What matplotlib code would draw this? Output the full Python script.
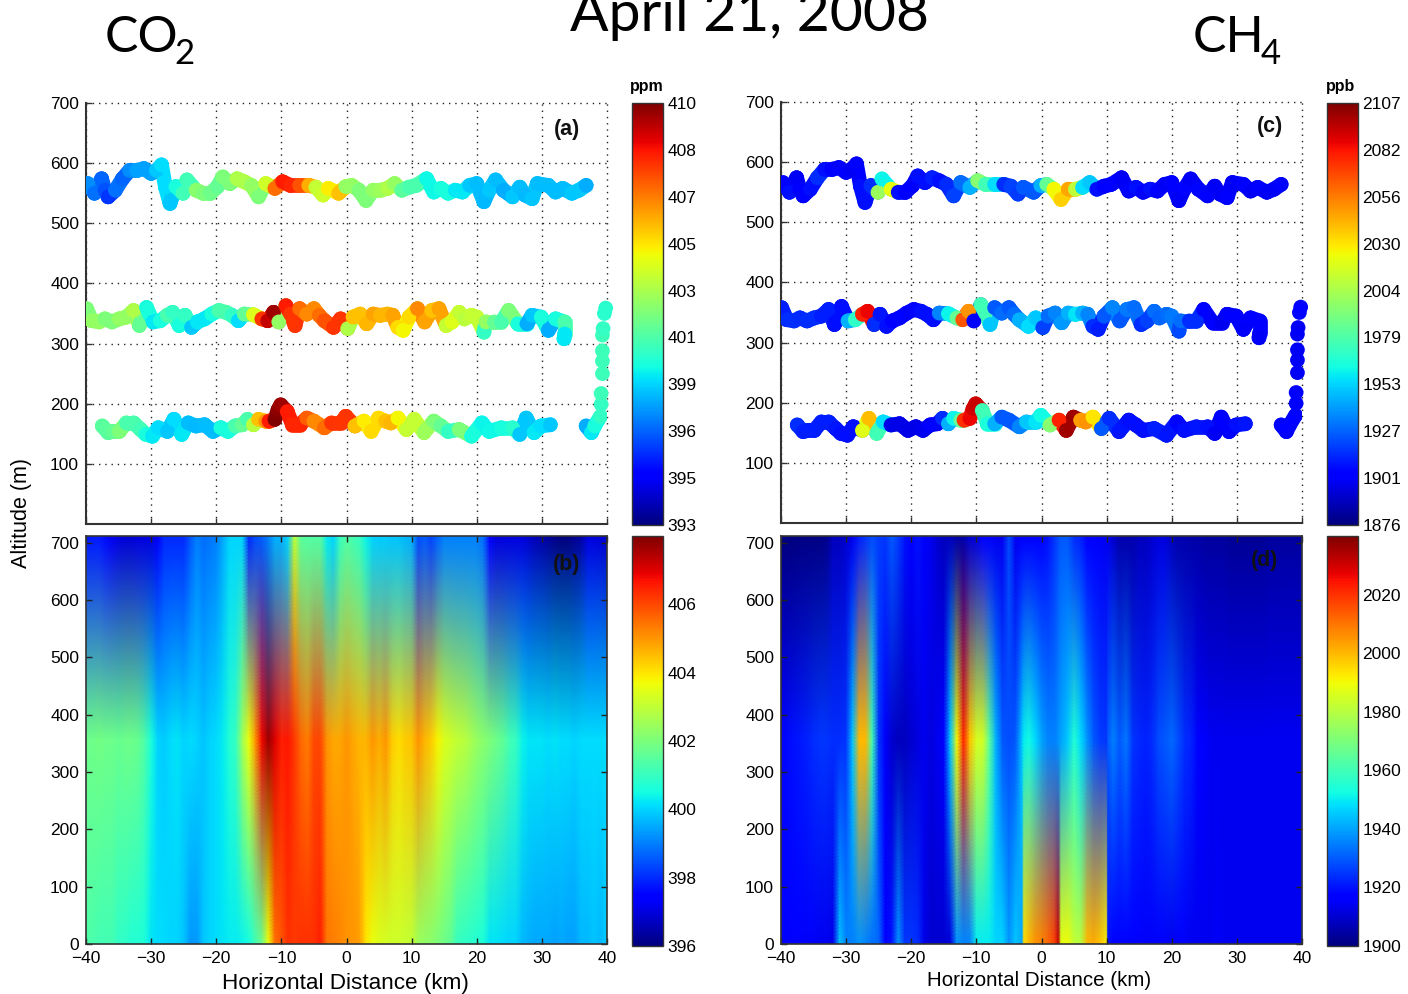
"""CO2 / CH4 curtain figure for April 21, 2008: flight tracks (a, c) and kriged sections (b, d)."""
import numpy as np
import matplotlib
matplotlib.use("Agg")
import matplotlib.pyplot as plt
from matplotlib.cm import ScalarMappable
from matplotlib.collections import LineCollection
from matplotlib.colors import Normalize

W, H = 1408, 994

# flight legs: horizontal distance (km), altitude (m), CO2 (ppm), CH4 (ppb)
leg1_x = [-39.7, -38.7, -37.6, -37.1, -36.6, -35.5, -34.4, -33.3, -32.2, -31.1, -30.0, -29.2, -28.4, -27.8,
          -27.1, -26.2, -25.1, -24.5, -23.1, -22.0, -20.9, -19.8, -19.0, -17.9, -16.8, -15.7, -14.6, -13.5,
          -12.4, -11.0, -9.8, -8.6, -7.2, -5.8, -4.7, -3.6, -2.8, -1.2, -0.1, 0.8, 1.9, 3.0, 4.1, 5.2, 6.3,
          7.4, 8.5, 9.6, 10.7, 12.3, 13.4, 14.5, 15.6, 16.7, 17.8, 18.9, 20.0, 21.1, 21.9, 22.9, 24.1, 25.5,
          26.6, 27.4, 28.5, 29.3, 31.0, 32.1, 33.2, 34.6, 35.7, 36.8]
leg1_alt = [566, 550, 574, 555, 544, 555, 574, 588, 588, 591, 583, 588, 597, 560, 533, 561, 550, 572, 555, 550,
            550, 561, 577, 566, 574, 569, 563, 544, 566, 558, 569, 563, 563, 563, 560, 547, 558, 550, 561, 563,
            555, 538, 555, 555, 558, 566, 555, 560, 563, 574, 552, 558, 550, 555, 552, 563, 566, 536, 555, 572,
            555, 544, 560, 547, 541, 566, 563, 552, 558, 550, 555, 563]
leg1_co2 = [397.5, 397, 396.8, 396.5, 396, 397, 396.8, 397.5, 397.8, 397.8, 397.8, 398.5, 398.8, 398.8, 398.5,
            399.5, 400.3, 400.3, 401.8, 401.5, 401.2, 401, 401.5, 401.5, 402.5, 402.5, 402, 401.5, 403.2, 406.5,
            408, 407.8, 407, 405.3, 403, 403.2, 404.2, 405, 402, 402, 401.5, 401.5, 402, 402.2, 402.5, 402, 400.8,
            400.5, 400.5, 399.3, 399.3, 399.5, 399.5, 399, 399, 398.5, 398.3, 398.2, 398.5, 398.3, 398, 398.5, 398.3,
            398.2, 398.4, 398.3, 398.3, 398.3, 398.3, 398.5, 398.5, 398]
leg1_ch4 = [1902, 1908, 1900, 1904, 1902, 1908, 1915, 1908, 1903, 1905, 1903, 1900, 1902, 1908, 1908, 1915, 2000,
            1960, 2022, 1908, 1903, 1902, 1908, 1908, 1912, 1908, 1914, 1920, 1930, 1945, 1995, 1975, 1955, 1915,
            1920, 1918, 1925, 1925, 1945, 1985, 2025, 2035, 2045, 2010, 1955, 1950, 1908, 1903, 1905, 1900, 1903,
            1908, 1903, 1908, 1903, 1900, 1902, 1900, 1905, 1900, 1906, 1902, 1900, 1900, 1903, 1900, 1902, 1900,
            1903, 1900, 1900, 1902]

leg2_x = [-39.9, -39.1, -38.0, -37.1, -36.0, -34.9, -33.8, -32.7, -31.8, -30.7, -29.7, -28.6, -27.5, -26.7, -25.7,
          -24.8, -23.8, -22.9, -21.8, -20.7, -19.6, -18.5, -17.6, -16.6, -15.7, -14.3, -13.0, -12.1, -11.2, -10.4,
          -9.3, -8.6, -7.9, -7.2, -6.1, -5.0, -4.2, -3.4, -2.0, -0.9, 0.2, 1.0, 2.1, 3.1, 4.1, 5.2, 6.3, 7.1, 7.9,
          8.7, 9.6, 10.9, 12.0, 13.1, 14.2, 15.3, 16.2, 17.3, 18.1, 19.2, 20.0, 21.1, 21.4, 22.7, 23.8, 24.9, 26.3,
          27.7, 28.5, 29.9, 31.0, 32.1, 33.5, 33.5, 33.4]
leg2_alt = [358, 338, 336, 341, 336, 341, 344, 355, 330, 360, 336, 338, 347, 352, 330, 347, 327, 336, 341, 349, 355,
            352, 347, 338, 349, 348, 341, 338, 352, 336, 363, 349, 330, 358, 349, 358, 347, 338, 327, 341, 325, 344,
            349, 333, 349, 347, 349, 347, 327, 322, 344, 358, 336, 355, 358, 330, 336, 352, 341, 347, 344, 319, 336,
            336, 336, 355, 333, 333, 347, 344, 322, 341, 336, 316, 308]
leg2_co2 = [401.5, 402, 402, 401.5, 401.5, 402, 402, 402.5, 401, 399.5, 399, 399.5, 400.5, 400, 399.5, 400, 398.5,
            399, 399, 399.5, 400.5, 400.5, 400, 398.8, 401, 403.5, 407.5, 409, 409.5, 402, 408, 407.5, 407.5, 406.5,
            406, 406, 406.5, 407, 407.5, 407.5, 402.5, 405, 405, 405.2, 405.5, 405.2, 405.2, 405.5, 404.5, 404,
            404.5, 406, 405.5, 405, 405.5, 403, 403.5, 403, 402.8, 403, 403, 400, 402, 401, 400.5, 401.5, 399.5,
            398, 398.5, 399.5, 398, 399.5, 400.5, 399, 399]
leg2_ch4 = [1912, 1915, 1915, 1914, 1915, 1915, 1912, 1912, 1908, 1908, 1945, 1970, 2078, 2085, 1915, 1910, 1908,
            1904, 1906, 1904, 1906, 1908, 1908, 1908, 1935, 1960, 1985, 2065, 2050, 1904, 1975, 1975, 1950, 1925,
            1930, 1925, 1930, 1945, 1955, 1950, 1920, 1930, 1935, 1940, 1945, 1957, 1945, 1935, 1915, 1912, 1925,
            1935, 1925, 1932, 1930, 1915, 1920, 1930, 1928, 1930, 1932, 1922, 1930, 1915, 1915, 1904, 1902, 1899,
            1902, 1904, 1901, 1904, 1904, 1902, 1900]

leg3_x = [-37.5, -36.6, -35.8, -34.9, -33.8, -32.7, -31.6, -30.8, -29.8, -28.9, -27.5, -26.5, -25.3, -24.3, -23.1,
          -21.8, -20.5, -19.3, -18.2, -17.1, -16.0, -15.2, -14.3, -13.5, -12.4, -11.9, -11.0, -10.5, -10.1, -9.1,
          -8.3, -7.2, -6.1, -5.0, -3.4, -2.3, -0.9, -0.1, 1.3, 2.7, 3.8, 4.9, 6.0, 6.8, 7.9, 9.2, 10.4, 11.9, 13.4,
          14.5, 15.6, 17.3, 19.2, 20.8, 21.9, 23.8, 25.5, 26.6, 27.6, 28.8, 29.9, 31.3]
leg3_alt = [163, 152, 154, 154, 168, 168, 157, 149, 146, 160, 154, 174, 149, 168, 163, 165, 154, 160, 154, 163, 165,
            174, 165, 174, 171, 171, 174, 190, 198, 187, 165, 165, 176, 171, 160, 168, 168, 179, 163, 171, 154, 176,
            171, 168, 176, 157, 174, 152, 171, 163, 154, 157, 146, 168, 154, 160, 160, 149, 176, 152, 163, 165]
leg3_co2 = [400.8, 400.8, 401, 401.5, 400.5, 400.5, 400.3, 399.5, 399, 398.8, 398.5, 398.8, 399, 398.3, 398.2, 398.3,
            398.3, 399.5, 399.5, 400.5, 401, 400.5, 402.8, 405, 405.8, 408, 410, 409.8, 409.5, 408, 407.8, 407.8,
            406.8, 406, 406.5, 407.5, 407.5, 407.5, 405, 404.2, 404.5, 404.5, 405, 405.2, 404, 403, 403, 402.2,
            401.5, 401, 400, 401.5, 399.5, 399.2, 399.3, 399.5, 399.8, 398.5, 398.5, 399, 398.8, 398.5]
leg3_ch4 = [1915, 1912, 1912, 1912, 1912, 1912, 1910, 1908, 1908, 1908, 2020, 2040, 1975, 1955, 1897, 1897, 1897,
            1897, 1899, 1902, 1906, 1915, 1945, 1960, 1985, 2075, 2085, 2090, 2092, 1975, 1965, 1945, 1925, 1925,
            1935, 1950, 1957, 1962, 1995, 2078, 2100, 2100, 2048, 2050, 2030, 1925, 1915, 1910, 1908, 1908, 1908,
            1912, 1910, 1906, 1908, 1910, 1908, 1900, 1902, 1904, 1908, 1910]

# short run-in near the east end
runin_x = [36.8, 37.6, 38.1, 39.0]
runin_alt = [163, 152, 163, 179]
runin_co2 = [398, 399, 399.5, 400]
runin_ch4 = [1905, 1905, 1905, 1905]

# spiral up, separate samples
spiral_x = [39.1, 39.1, 39.3, 39.3, 39.3, 39.3, 39.4, 39.6, 39.8]
spiral_alt = [199, 217, 250, 271, 288, 314, 325, 350, 359]
spiral_co2 = [400, 400.2, 400.2, 400.2, 400.2, 400.2, 400, 399.8, 399.8]
spiral_ch4 = [1902, 1902, 1900, 1900, 1900, 1900, 1900, 1905, 1905]

# sections: three altitude rows, colours blended between them
sec_alt = [0, 356, 712]
x_b = list(range(-40, 41))
co2_row0 = [401.3, 401.3, 401.2, 401.2, 401.2, 400.9, 400.9, 400.7, 400.7, 400.6,
            400.2, 400.1, 400.1, 400, 400, 399.8, 399.3, 399.3, 399.8, 400,
            400.1, 400.2, 400.3, 400.3, 400.4, 400.5, 401.2, 401.8, 403.6, 405.5,
            405.8, 406.3, 406.2, 406.3, 406.3, 406.3, 406.5, 405.4, 405.3, 405.2,
            405, 405, 404.9, 404, 403.6, 403.4, 403.3, 403.2, 403.2, 403.1,
            403, 402.5, 402.3, 402.2, 402, 401.8, 401.6, 401, 400.9, 400.8,
            400.7, 400.6, 400.2, 400.2, 400.1, 400, 400, 399.7, 399.6, 399.5,
            399.5, 399.5, 399.4, 399.5, 399.4, 399.4, 399.7, 399.7, 399.8, 399.7, 399.9]
co2_row1 = [401.8, 401.8, 401.9, 401.8, 401.8, 401.7, 401.8, 401.8, 401.7, 401.3,
            400.6, 400, 399.9, 400.1, 400.2, 400, 400.1, 400, 399.8, 400,
            400.1, 400.3, 400.7, 401, 402.5, 403.6, 405, 406.8, 407.7, 407,
            406.5, 406.6, 406.2, 405.6, 405.3, 406, 406, 405, 404.8, 404.8,
            405, 404.8, 404.6, 404.6, 405, 404.7, 405, 404.3, 404.1, 404.3,
            404.4, 405, 404.6, 404.3, 403.8, 403.4, 403.2, 403, 402.9, 402.7,
            402.4, 402.2, 402, 401.8, 401.6, 401.2, 401, 400.4, 400.2, 400.2,
            400.2, 400.1, 400.2, 400.1, 400.1, 400, 400.1, 400.1, 400.1, 400.1, 400.1]
co2_row2 = [397.8, 397.8, 397.8, 397.6, 397.2, 397, 396.9, 396.9, 397, 397,
            397, 397.3, 398, 398, 398, 398, 398.5, 399, 398.8, 398.9,
            399, 399.5, 400, 400, 400, 398, 398.4, 398.6, 399, 399.6,
            399.6, 400, 403, 401.5, 401.4, 401.4, 401.4, 400.3, 400, 401,
            401.4, 401.2, 401, 400.4, 400, 399.9, 399.9, 399.8, 399.8, 399.7,
            399.6, 398.4, 398.6, 398.3, 398.7, 399, 399, 399, 399, 399,
            399, 398.8, 397.4, 397, 397, 397, 397, 397, 396.8, 396.6,
            396.5, 396.3, 396.1, 396, 396, 396.2, 396.4, 397, 397, 396.9, 396.8]

x_d = [-40, -39, -38, -37, -36, -35, -34, -33, -32, -31, -30, -29, -28, -27, -26, -25, -24, -23, -22, -21,
       -20, -19, -18, -17, -16, -15, -14, -13, -12, -11, -10, -9, -8, -7, -6, -5, -4, -3, -2.7, -2, -1, 0, 1, 2,
       2.6, 3, 4, 5, 6, 7, 8, 9, 10, 10.2, 11, 12, 13, 14, 15, 16, 17, 18, 19, 20, 21, 22, 23, 24, 25, 26, 27,
       28, 29, 30, 31, 32, 33, 34, 35, 36, 37, 38, 39, 40]
ch4_row0 = [1916, 1916, 1916, 1916, 1915, 1915, 1914, 1914, 1913, 1944, 1936, 1935, 1938, 1936, 1933, 1932, 1918,
            1920, 1938, 1925, 1925, 1924, 1913, 1910, 1910, 1910, 1912, 1938, 1936, 1936, 1950, 1950, 1950, 1947,
            1947, 1938, 1945, 1940, 1995, 2000, 2005, 2008, 2012, 2018, 2032, 1988, 1990, 1982, 1980, 2000, 2002,
            1998, 1992, 1920, 1918, 1918, 1917, 1917, 1916, 1915, 1915, 1915, 1915, 1914, 1915, 1915, 1914, 1914,
            1914, 1914, 1915, 1914, 1914, 1914, 1914, 1914, 1914, 1914, 1914, 1914, 1914, 1914, 1914, 1914]
ch4_row1 = [1918, 1919, 1920, 1921, 1922, 1924, 1925, 1925, 1924, 1924, 1925, 1945, 2000, 2000, 1960, 1925, 1915,
            1910, 1908, 1908, 1910, 1912, 1914, 1912, 1914, 1918, 1945, 1990, 2022, 1998, 1985, 1985, 1965, 1942,
            1930, 1928, 1930, 1945, 1950, 1952, 1948, 1940, 1936, 1935, 1938, 1940, 1945, 1955, 1948, 1938, 1930,
            1926, 1925, 1930, 1935, 1930, 1934, 1925, 1923, 1922, 1924, 1928, 1930, 1932, 1928, 1924, 1922, 1918,
            1916, 1914, 1914, 1914, 1914, 1914, 1914, 1914, 1914, 1914, 1914, 1914, 1914, 1914, 1914, 1914]
ch4_row2 = [1900, 1900, 1900, 1901, 1901, 1901, 1901, 1902, 1908, 1908, 1910, 1914, 1922, 1925, 1928, 1926, 1925,
            1930, 1926, 1920, 1918, 1920, 1915, 1914, 1910, 1908, 1908, 1905, 1905, 1910, 1912, 1918, 1916, 1914,
            1914, 1928, 1914, 1916, 1917, 1918, 1918, 1918, 1920, 1925, 1928, 1930, 1930, 1924, 1922, 1916, 1916,
            1915, 1914, 1914, 1910, 1906, 1906, 1906, 1908, 1908, 1910, 1912, 1912, 1908, 1906, 1906, 1905, 1905,
            1904, 1904, 1904, 1904, 1903, 1903, 1903, 1903, 1903, 1903, 1904, 1904, 1904, 1904, 1904, 1904]

x_ticks = [-40, -30, -20, -10, 0, 10, 20, 30, 40]
y_ticks_track = [100, 200, 300, 400, 500, 600, 700]
y_ticks_sec = [0, 100, 200, 300, 400, 500, 600, 700]
cbar_a_labels = ["393", "395", "396", "399", "401", "403", "405", "407", "408", "410"]
cbar_c_labels = ["1876", "1901", "1927", "1953", "1979", "2004", "2030", "2056", "2082", "2107"]
cbar_b_ticks = [396, 398, 400, 402, 404, 406]
cbar_d_ticks = [1900, 1920, 1940, 1960, 1980, 2000, 2020]

FONT = "Liberation Sans"
TITLE_FONT = "Lato"
EDGE = "#333333"
DOT_PT = 10.6  # track dot diameter, points
plt.rcParams["font.family"] = FONT
plt.rcParams["font.size"] = 12.5


def px_axes(fig, x0, y0, x1, y1):
    """Axes from pixel corners, y measured from the top of the picture."""
    return fig.add_axes([x0 / W, 1 - y1 / H, (x1 - x0) / W, (y1 - y0) / H])


def label(fig, x, y, s, **kw):
    fig.text(x / W, 1 - y / H, s, **kw)


def draw_leg(ax, x, alt, vals, norm):
    """Fat round-capped stroke through the samples so a leg reads as one band."""
    pts = np.column_stack([x, alt])
    segs = np.stack([pts[:-1], pts[1:]], axis=1)
    lc = LineCollection(segs, cmap="jet", norm=norm, linewidth=DOT_PT, capstyle="round", zorder=3)
    lc.set_array(np.array(vals[:-1]))
    ax.add_collection(lc)
    ax.scatter(x, alt, c=vals, s=DOT_PT ** 2, cmap="jet", norm=norm, edgecolor="none", zorder=3.1)


def track_panel(ax, legs, spiral, vmin, vmax, tag, tag_pos):
    norm = Normalize(vmin, vmax)
    for x, alt, vals in legs:
        draw_leg(ax, x, alt, vals, norm)
    ax.scatter(spiral_x, spiral_alt, c=spiral, s=DOT_PT ** 2, cmap="jet", norm=norm, edgecolor="none", zorder=3,
               clip_on=False)
    ax.set_xlim(-40, 40)
    ax.set_ylim(0, 700)
    ax.set_xticks(x_ticks)
    ax.set_xticklabels([])
    ax.set_yticks(y_ticks_track)
    ax.tick_params(direction="in", length=4, width=1, color=EDGE, pad=5)
    ax.grid(True, color="#222222", ls=(0, (1, 3.5)), lw=1, clip_on=False, zorder=1)
    ax.spines["top"].set_visible(False)
    ax.spines["right"].set_visible(False)
    for side in ("left", "bottom"):
        ax.spines[side].set_color(EDGE)
        ax.spines[side].set_linewidth(1.5)
    ax.set_axisbelow(True)
    ax.text(*tag_pos, tag, transform=ax.transAxes, ha="center", va="center",
            fontsize=15.5, fontweight="bold", color="#111111")


def section_panel(ax, xgrid, rows, vmin, vmax, tag, tag_pos):
    norm = Normalize(vmin, vmax)
    rgb = plt.get_cmap("jet")(norm(np.array(rows)))[..., :3]
    # the original blends colours, not values, between the altitude rows
    fine_alt = np.linspace(sec_alt[0], sec_alt[-1], 121)
    fine = np.stack([[np.interp(fine_alt, sec_alt, rgb[:, j, k]) for j in range(rgb.shape[1])]
                     for k in range(3)], axis=-1).transpose(1, 0, 2)
    X, Y = np.meshgrid(xgrid, fine_alt)
    ax.pcolormesh(X, Y, fine, shading="gouraud")
    ax.set_xlim(-40, 40)
    ax.set_ylim(0, 712)
    ax.set_xticks(x_ticks)
    ax.set_yticks(y_ticks_sec)
    ax.tick_params(direction="in", length=4, width=1, color="#222222", top=True, right=True, pad=5)
    for sp in ax.spines.values():
        sp.set_color(EDGE)
        sp.set_linewidth(1.2)
    ax.text(*tag_pos, tag, transform=ax.transAxes, ha="center", va="center",
            fontsize=15.5, fontweight="bold", color="#111111")


def colorbar(fig, cax, vmin, vmax, ticks, labels):
    sm = ScalarMappable(Normalize(vmin, vmax), "jet")
    cb = fig.colorbar(sm, cax=cax)
    cb.set_ticks(ticks)
    cb.set_ticklabels(labels)
    cb.ax.tick_params(length=0, pad=3, labelsize=12.5)
    cb.outline.set_edgecolor(EDGE)
    cb.outline.set_linewidth(1)
    return cb


fig = plt.figure(figsize=(W / 100, H / 100), dpi=100, facecolor="white")

ax_a = px_axes(fig, 86, 103, 607, 524)
ax_b = px_axes(fig, 86, 536, 607, 944)
ax_c = px_axes(fig, 781, 102, 1302, 523)
ax_d = px_axes(fig, 781, 536, 1302, 944)

track_panel(ax_a, [(leg1_x, leg1_alt, leg1_co2), (leg2_x, leg2_alt, leg2_co2), (leg3_x, leg3_alt, leg3_co2),
                   (runin_x, runin_alt, runin_co2)], spiral_co2, 393, 410, "(a)", (0.923, 0.936))
track_panel(ax_c, [(leg1_x, leg1_alt, leg1_ch4), (leg2_x, leg2_alt, leg2_ch4), (leg3_x, leg3_alt, leg3_ch4),
                   (runin_x, runin_alt, runin_ch4)], spiral_ch4, 1876, 2107, "(c)", (0.939, 0.941))
section_panel(ax_b, x_b, [co2_row0, co2_row1, co2_row2], 396, 408, "(b)", (0.923, 0.929))
section_panel(ax_d, x_d, [ch4_row0, ch4_row1, ch4_row2], 1900, 2040, "(d)", (0.929, 0.941))

colorbar(fig, px_axes(fig, 632, 103, 663, 525), 393, 410, np.linspace(393, 410, 10), cbar_a_labels)
colorbar(fig, px_axes(fig, 632, 536, 663, 946), 396, 408, cbar_b_ticks, [str(t) for t in cbar_b_ticks])
colorbar(fig, px_axes(fig, 1327, 103, 1358, 525), 1876, 2107, np.linspace(1876, 2107, 10), cbar_c_labels)
colorbar(fig, px_axes(fig, 1327, 536, 1358, 946), 1900, 2040, cbar_d_ticks, [str(t) for t in cbar_d_ticks])

label(fig, 647, 87, "ppm", ha="center", va="center", fontsize=11.5, fontweight="bold")
label(fig, 1341, 86, "ppb", ha="center", va="center", fontsize=11.5, fontweight="bold")

label(fig, 22, 513, "Altitude (m)", rotation=90, ha="center", va="center", fontsize=15.5)
label(fig, 345, 983, "Horizontal Distance (km)", ha="center", va="center", fontsize=16.2)
label(fig, 1039, 980, "Horizontal Distance (km)", ha="center", va="center", fontsize=14.8)

# slide titles, the date runs off the top edge in the original
label(fig, 749, 31, "April 21, 2008", ha="center", va="baseline", fontsize=41, family=TITLE_FONT)
label(fig, 105, 52, "CO", ha="left", va="baseline", fontsize=36, family=TITLE_FONT)
label(fig, 174, 64, "2", ha="left", va="baseline", fontsize=25, family=TITLE_FONT)
label(fig, 1193, 52, "CH", ha="left", va="baseline", fontsize=36, family=TITLE_FONT)
label(fig, 1261, 64, "4", ha="left", va="baseline", fontsize=25, family=TITLE_FONT)

fig.savefig("out.png", dpi=100)
plt.close(fig)
